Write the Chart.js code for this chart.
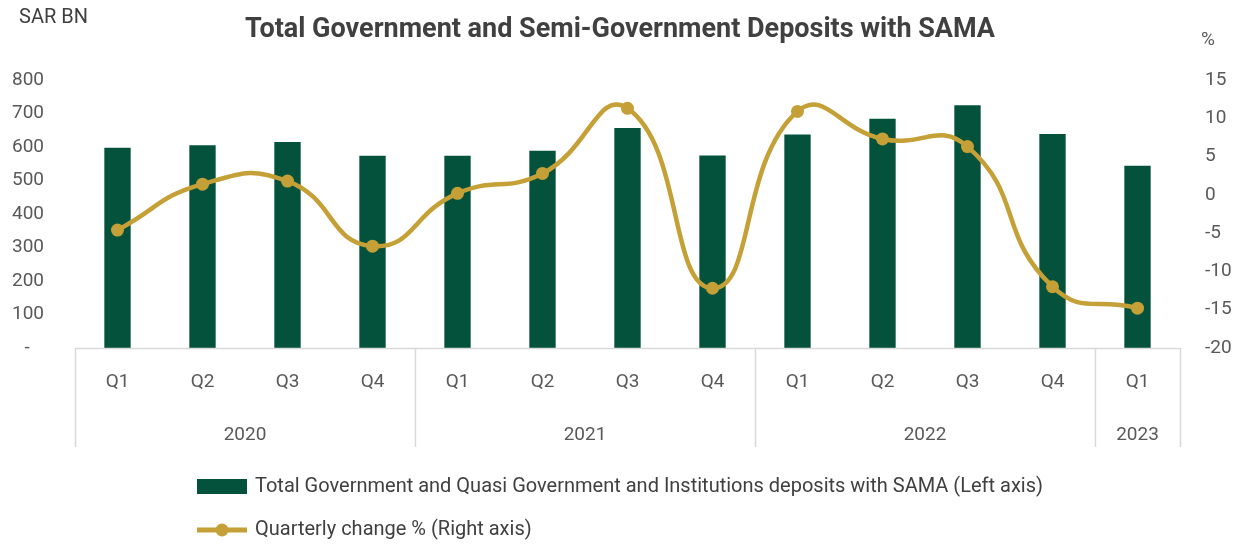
<!DOCTYPE html>
<html>
<head>
<meta charset="utf-8">
<script src="https://cdn.jsdelivr.net/npm/chart.js@4/dist/chart.umd.min.js"></script>
<style>
  body { margin: 0; background: #fff; }
  #wrap { width: 1247px; height: 544px; }
</style>
</head>
<body>
<div id="wrap"><canvas id="depositsChart" width="1247" height="544"></canvas></div>
<script>
// data
const quarters = ['Q1', 'Q2', 'Q3', 'Q4', 'Q1', 'Q2', 'Q3', 'Q4', 'Q1', 'Q2', 'Q3', 'Q4', 'Q1'];
const years = ['2020', '2021', '2022', '2023'];
const quartersPerYear = [4, 4, 4, 1];
const deposits = [598, 605, 615, 574, 574, 589, 657, 575, 637, 684, 725, 639, 544];
const quarterlyChange = [-4.6, 1.4, 1.8, -6.7, 0.2, 2.8, 11.3, -12.2, 10.9, 7.3, 6.3, -12.0, -14.8];

const chartTitle = 'Total Government and Semi-Government Deposits with SAMA';
const leftUnit = 'SAR BN';
const rightUnit = '%';

const colors = {
    green: '#04523B',
    gold: '#C4A036',
    title: '#404040',
    text: '#595959',
    frame: '#D9D9D9'
};
const fontFamily = 'Roboto, "DejaVu Sans", sans-serif';

// draws title, units, the grouped x axis frame and the legend
const decorPlugin = {
    id: 'decor',
    afterDraw(chart) {
        const ctx = chart.ctx;
        const area = chart.chartArea;
        const xScale = chart.scales.x;
        ctx.save();

        // title and axis units
        ctx.fillStyle = colors.title;
        ctx.textBaseline = 'middle';
        ctx.textAlign = 'center';
        ctx.font = 'bold 27px ' + fontFamily;
        ctx.fillText(chartTitle, 620, 30);
        ctx.textAlign = 'left';
        ctx.font = '20px ' + fontFamily;
        ctx.fillText(leftUnit, 19, 18);
        ctx.fillStyle = colors.text;
        ctx.font = '19px ' + fontFamily;
        ctx.fillText(rightUnit, 1201, 40);

        // axis frame with year separators
        const frameBottom = 447;
        ctx.strokeStyle = colors.frame;
        ctx.lineWidth = 1.5;
        ctx.beginPath();
        ctx.moveTo(area.left, area.bottom + 0.5);
        ctx.lineTo(area.right, area.bottom + 0.5);
        let idx = 0;
        const bounds = [area.left];
        quartersPerYear.forEach((n, i) => {
            idx += n;
            if (i < quartersPerYear.length - 1) {
                bounds.push((xScale.getPixelForValue(idx - 1) + xScale.getPixelForValue(idx)) / 2);
            }
        });
        bounds.push(area.right);
        bounds.forEach(bx => {
            ctx.moveTo(Math.round(bx) + 0.5, area.bottom);
            ctx.lineTo(Math.round(bx) + 0.5, frameBottom);
        });
        ctx.stroke();

        // year labels
        ctx.fillStyle = colors.text;
        ctx.textAlign = 'center';
        ctx.font = '19px ' + fontFamily;
        years.forEach((yr, i) => {
            ctx.fillText(yr, (bounds[i] + bounds[i + 1]) / 2, 435);
        });

        // legend
        const bar = chart.data.datasets[1];
        const line = chart.data.datasets[0];
        ctx.textAlign = 'left';
        ctx.font = '20px ' + fontFamily;
        ctx.fillStyle = bar.backgroundColor;
        ctx.fillRect(197, 479, 50, 15);
        ctx.fillStyle = colors.title;
        ctx.fillText(bar.label, 255, 487);

        ctx.strokeStyle = line.borderColor;
        ctx.lineWidth = 5;
        ctx.beginPath();
        ctx.moveTo(197, 530);
        ctx.lineTo(247, 530);
        ctx.stroke();
        ctx.fillStyle = line.borderColor;
        ctx.beginPath();
        ctx.arc(222, 530, 6.5, 0, Math.PI * 2);
        ctx.fill();
        ctx.fillStyle = colors.title;
        ctx.fillText(line.label, 255, 530);

        ctx.restore();
    }
};

const ctx = document.getElementById('depositsChart');
const chart = new Chart(ctx, {
    data: {
        labels: quarters,
        datasets: [
            {
                type: 'line',
                label: 'Quarterly change % (Right axis)',
                data: quarterlyChange,
                yAxisID: 'y1',
                borderColor: colors.gold,
                backgroundColor: colors.gold,
                borderWidth: 4.5,
                tension: 0.5,
                pointRadius: 6.5,
                pointHoverRadius: 6.5,
                pointBackgroundColor: colors.gold,
                pointBorderWidth: 0,
                order: 0
            },
            {
                type: 'bar',
                label: 'Total Government and Quasi Government and Institutions deposits with SAMA (Left axis)',
                data: deposits,
                yAxisID: 'y',
                backgroundColor: colors.green,
                categoryPercentage: 1,
                barPercentage: 0.31,
                order: 1
            }
        ]
    },
    options: {
        responsive: false,
        animation: false,
        layout: { padding: { top: 80, left: 0, right: 0, bottom: 0 } },
        plugins: {
            legend: { display: false },
            title: { display: false },
            tooltip: { enabled: false }
        },
        scales: {
            x: {
                grid: { display: false, drawTicks: false },
                border: { display: false },
                ticks: {
                    color: colors.text,
                    font: { family: fontFamily, size: 19 },
                    padding: 23,
                    maxRotation: 0,
                    autoSkip: false
                },
                afterFit: s => { s.height = 196; }
            },
            y: {
                position: 'left',
                min: 0,
                max: 800,
                grid: { display: false, drawTicks: false },
                border: { display: false },
                ticks: {
                    stepSize: 100,
                    color: colors.text,
                    font: { family: fontFamily, size: 19 },
                    padding: 31,
                    callback: v => v === 0 ? '-   ' : v
                },
                afterFit: s => { s.width = 75; }
            },
            y1: {
                position: 'right',
                min: -20,
                max: 15,
                grid: { display: false, drawTicks: false },
                border: { display: false },
                ticks: {
                    stepSize: 5,
                    color: colors.text,
                    font: { family: fontFamily, size: 19 },
                    padding: 25
                },
                afterFit: s => { s.width = 67; }
            }
        }
    },
    plugins: [decorPlugin]
});
</script>
</body>
</html>
